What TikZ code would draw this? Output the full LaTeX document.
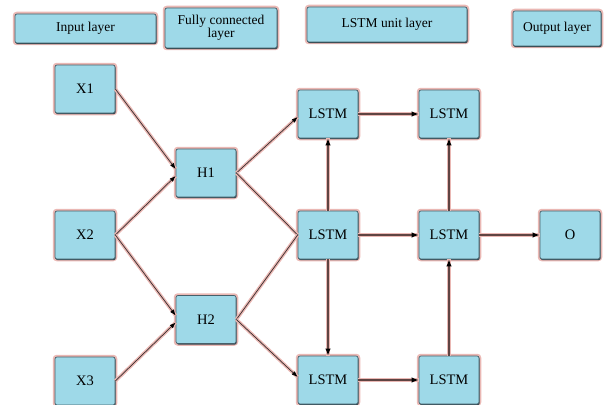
\documentclass[tikz,border=0pt]{standalone}
\usepackage{fontspec}
\setmainfont{Liberation Serif}
\usetikzlibrary{arrows.meta}
\definecolor{boxfill}{RGB}{158,217,232}
\definecolor{boxedge}{RGB}{70,96,106}
\definecolor{boxshade}{RGB}{50,70,78}
\definecolor{glow}{RGB}{234,184,180}
\definecolor{linedark}{RGB}{55,45,45}
\definecolor{linebrown}{RGB}{95,68,66}
\tikzset{
  box/.style={draw=boxedge, fill=boxfill, line width=0.7pt, rounded corners=2pt,
    minimum width=60pt, minimum height=48pt, inner sep=0pt, align=center,
    font=\fontsize{14.5}{15}\selectfont,
    preaction={draw=glow, line width=4.5pt},
    preaction={fill=boxshade, transform canvas={shift={(0.7pt,-1.1pt)}}}},
  headbox/.style={box, font=\fontsize{13.5}{14.5}\selectfont},
  thinarrow/.style={draw=linedark, line width=0.7pt, -{Latex[length=6pt,width=4.5pt,color=black]},
    preaction={draw=glow, line width=3.5pt, -}},
  thinline/.style={draw=linedark, line width=0.7pt,
    preaction={draw=glow, line width=3.5pt}},
  thickarrow/.style={draw=linebrown, line width=1.5pt, -{Latex[length=7pt,width=5.5pt,color=black]},
    preaction={draw=glow, line width=4.5pt, -}},
}
\begin{document}
\begin{tikzpicture}[x=1pt,y=-1pt]
\useasboundingbox (0,0) rectangle (607,404);
% header
\node[headbox, minimum width=141pt, minimum height=29pt] (hin) at (85.5,28.5) {Input layer};
\node[headbox, minimum width=112pt, minimum height=40pt] (hfc) at (221,28) {Fully connected\\[-1pt]layer};
\node[headbox, minimum width=160pt, minimum height=35pt] (hlstm) at (387,24.5) {LSTM unit layer};
\node[headbox, minimum width=88pt, minimum height=35pt] (hout) at (557,28.5) {Output layer};
% nodes
\node[box] (x1) at (85,89) {X1};
\node[box] (x2) at (85,235) {X2};
\node[box] (x3) at (85,381) {X3};
\node[box] (h1) at (206,173) {H1};
\node[box] (h2) at (206,319.5) {H2};
\node[box] (t1) at (328,114) {LSTM};
\node[box] (t2) at (449,114) {LSTM};
\node[box] (m1) at (328,235) {LSTM};
\node[box] (m2) at (449,235) {LSTM};
\node[box] (o) at (570,235) {O};
\node[box] (b1) at (328,380) {LSTM};
\node[box] (b2) at (449,380) {LSTM};
% connectors
\draw[thinarrow] (x1.east) -- ([yshift=4pt]h1.west);
\draw[thinarrow] (x2.east) -- ([yshift=-3pt]h1.west);
\draw[thinarrow] (x2.east) -- ([yshift=4pt]h2.west);
\draw[thinarrow] (x3.east) -- ([yshift=-3pt]h2.west);
\draw[thinarrow] (h1.east) -- ([yshift=-3pt]t1.west);
\draw[thinline] (h1.east) -- (m1.west);
\draw[thinline] (h2.east) -- (m1.west);
\draw[thinarrow] (h2.east) -- ([yshift=3pt]b1.west);
\draw[thickarrow] (t1.east) -- (t2.west);
\draw[thickarrow] (m1.north) -- (t1.south);
\draw[thickarrow] (m1.east) -- (m2.west);
\draw[thickarrow] (m1.south) -- (b1.north);
\draw[thickarrow] (m2.north) -- (t2.south);
\draw[thickarrow] (m2.east) -- (o.west);
\draw[thickarrow] (b1.east) -- (b2.west);
\draw[thickarrow] (b2.north) -- (m2.south);
\end{tikzpicture}
\end{document}
